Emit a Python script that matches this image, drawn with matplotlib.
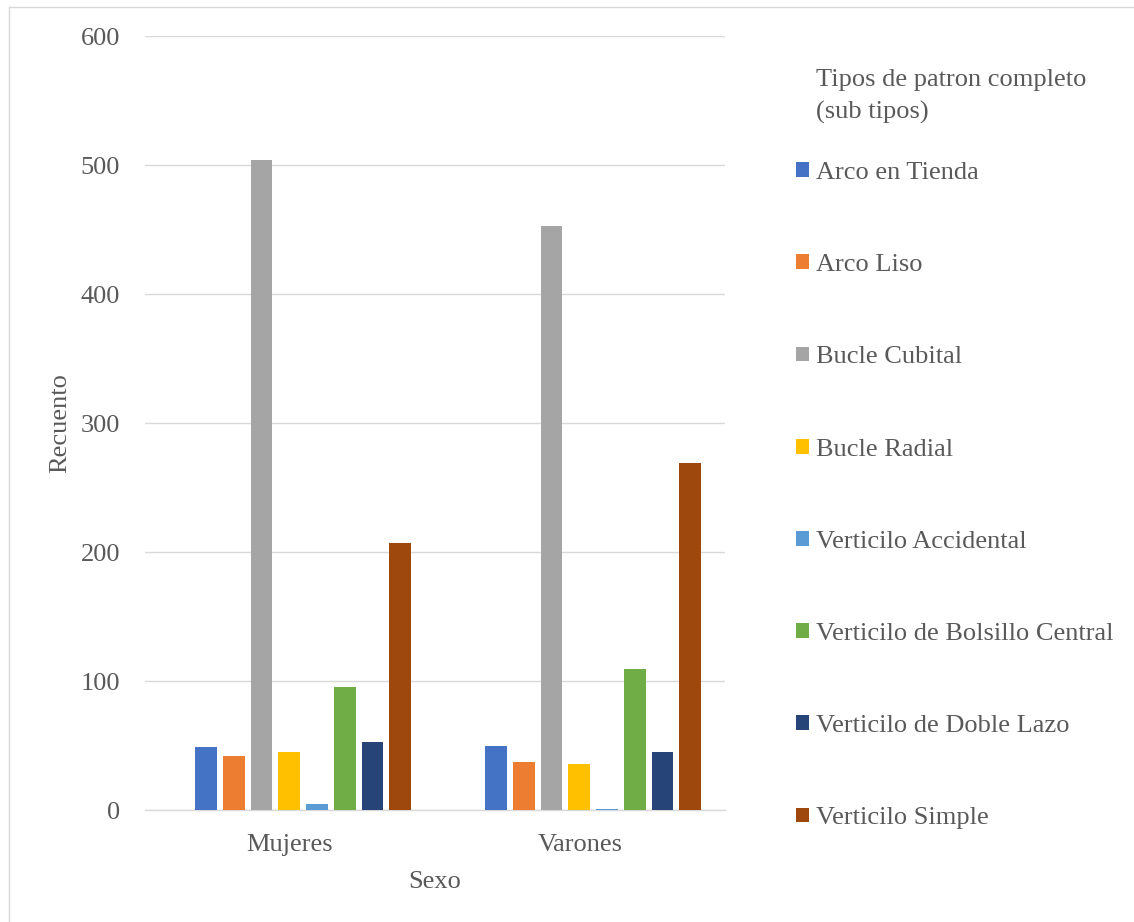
import numpy as np
import matplotlib.pyplot as plt
from matplotlib.lines import Line2D

plt.rcParams["font.family"] = ["Liberation Serif", "DejaVu Serif"]
plt.rcParams["font.size"] = 19

# data
sexes = ["Mujeres", "Varones"]
subtypes = [
    "Arco en Tienda",
    "Arco Liso",
    "Bucle Cubital",
    "Bucle Radial",
    "Verticilo Accidental",
    "Verticilo de Bolsillo Central",
    "Verticilo de Doble Lazo",
    "Verticilo Simple",
]
counts_mujeres = [49, 42, 504, 45, 5, 95, 53, 207]
counts_varones = [50, 37, 453, 36, 1, 109, 45, 269]
y_ticks = [0, 100, 200, 300, 400, 500, 600]

# office-style palette
COLORS = ["#4472C4", "#ED7D31", "#A5A5A5", "#FFC000",
          "#5B9BD5", "#70AD47", "#264478", "#9E480E"]
TEXT = "#595959"
GRID = "#D9D9D9"

W, H = 1134, 922
fig = plt.figure(figsize=(W / 100, H / 100), dpi=100)
ax = fig.add_axes([145 / W, 1 - 810 / H, 580 / W, 774 / H])

x = np.arange(len(sexes))
step = 0.0958
width = 0.075
offsets = -0.29 + step * np.arange(len(subtypes))

handles = []
for i, name in enumerate(subtypes):
    vals = [counts_mujeres[i], counts_varones[i]]
    bars = ax.bar(x + offsets[i], vals, width=width, color=COLORS[i],
                  label=name, zorder=3)
    handles.append(bars)

ax.set_xlim(-0.5, 1.5)
ax.set_ylim(0, 600)
ax.set_yticks(y_ticks)
ax.set_xticks(x)
ax.set_xticklabels(sexes)
ax.yaxis.grid(True, color=GRID, linewidth=1.0, zorder=0)
ax.tick_params(axis="both", length=0, colors=TEXT, labelsize=19)
ax.tick_params(axis="y", pad=18)
ax.tick_params(axis="x", pad=17.5)
for side in ["top", "right", "left"]:
    ax.spines[side].set_visible(False)
ax.spines["bottom"].set_color(GRID)
ax.spines["bottom"].set_linewidth(1.0)

ax.set_ylabel("Recuento", color=TEXT, fontsize=19)
ax.yaxis.set_label_coords(-0.128, 0.5)
ax.set_xlabel("Sexo", color=TEXT, fontsize=19)
ax.xaxis.set_label_coords(0.5, -0.079)

# legend on the right, title drawn separately
fig.text(816 / W, 1 - 69 / H, "Tipos de patron completo\n(sub tipos)",
         ha="left", va="top", color=TEXT, fontsize=19, linespacing=1.55)
leg = fig.legend(handles=handles, labels=subtypes, loc="upper left",
                 bbox_to_anchor=(796 / W, 1 - 162 / H), frameon=False,
                 fontsize=19, handlelength=0.48, handleheight=0.48,
                 handletextpad=0.27, labelspacing=2.66, borderpad=0,
                 borderaxespad=0)
for t in leg.get_texts():
    t.set_color(TEXT)

# chart border (left and top edges)
fig.add_artist(Line2D([8.5 / W, 8.5 / W], [0, 1 - 7.5 / H],
                      transform=fig.transFigure, color=GRID, linewidth=1.0))
fig.add_artist(Line2D([8.5 / W, 1], [1 - 7.5 / H, 1 - 7.5 / H],
                      transform=fig.transFigure, color=GRID, linewidth=1.0))

fig.savefig("out.png", dpi=100)
